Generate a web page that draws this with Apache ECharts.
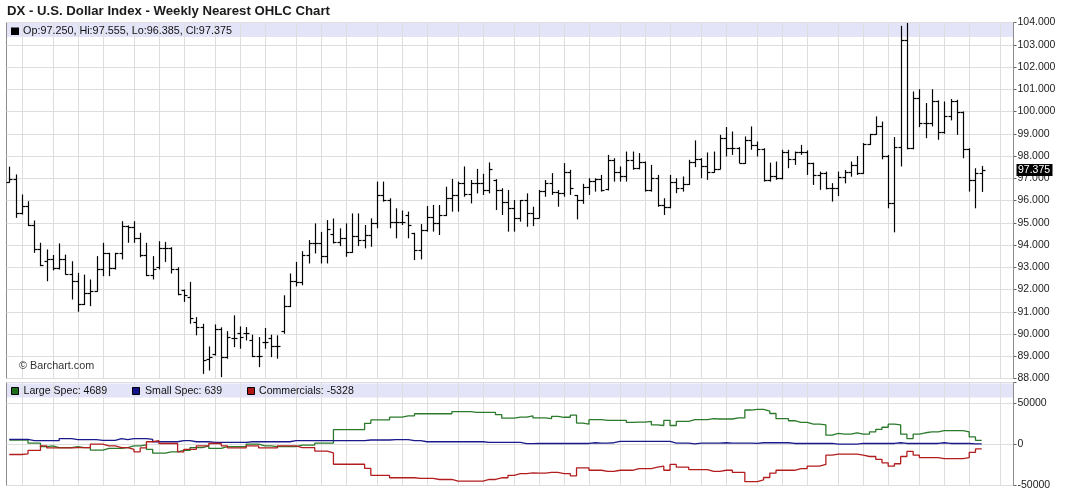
<!DOCTYPE html>
<html>
<head>
<meta charset="UTF-8">
<title>DX - U.S. Dollar Index - Weekly Nearest OHLC Chart</title>
<script src="https://cdn.jsdelivr.net/npm/echarts@6.0.0/dist/echarts.min.js"></script>
<style>
  html, body { margin: 0; padding: 0; background: #fff; }
  #chart { width: 1067px; height: 488px; }
</style>
</head>
<body>
<div id="chart"></div>
<script>
// weekly bars, first week starts Monday 2017-06-19
var firstWeek = [2017, 5, 19];

var opens = [
  96.84, 96.95, 95.42, 95.75, 94.90, 93.80, 93.30, 93.38, 92.97, 93.38,
  92.71, 92.37, 91.33, 91.85, 91.95, 92.93, 93.62, 92.97, 93.62, 94.85,
  94.82, 94.32, 93.53, 92.67, 93.00, 93.87, 93.85, 92.90, 91.96, 91.66,
  90.54, 90.31, 88.89, 89.11, 90.24, 88.96, 89.83, 90.04, 90.04, 89.71,
  88.99, 89.64, 89.83, 89.44, 90.12, 91.24, 92.37, 92.35, 93.54, 94.10,
  94.11, 93.50, 94.49, 94.14, 94.30, 93.70, 94.40, 94.22, 94.45, 94.97,
  96.25, 96.02, 95.05, 95.05, 95.35, 94.55, 93.77, 94.67, 95.27, 94.97,
  95.35, 96.13, 96.25, 96.77, 96.28, 96.80, 96.80, 96.47, 96.90, 96.47,
  95.95, 95.68, 95.23, 96.02, 95.42, 95.23, 96.43, 96.77, 96.40, 96.32,
  97.30, 96.25, 96.02, 96.60, 96.88, 96.97, 96.50, 97.83, 97.30, 97.08,
  97.83, 97.45, 97.71, 96.47, 97.00, 95.80, 95.72, 96.85, 96.55, 96.75,
  97.75, 97.85, 97.55, 97.30, 97.40, 98.80, 98.35, 98.35, 97.70, 98.73,
  98.50, 98.30, 96.93, 97.08, 97.00, 98.20, 97.86, 98.16, 98.20, 97.68,
  97.15, 97.23, 96.55, 96.55, 97.07, 97.30, 97.60, 97.22, 98.55, 98.98,
  99.36, 98.00, 95.90, 98.42, 103.20, 98.35, 100.60, 99.50, 99.48, 100.45,
  99.10, 99.78, 100.45, 99.96, 98.30, 96.93, 97.25
];
var highs = [
  97.52, 97.17, 96.27, 95.97, 95.10, 94.10, 93.80, 93.55, 94.07, 93.57,
  93.27, 92.75, 92.67, 92.45, 93.50, 94.10, 93.65, 93.65, 95.07, 94.88,
  95.07, 94.55, 94.10, 93.50, 94.17, 94.14, 93.90, 93.00, 92.00, 92.34,
  90.76, 90.46, 89.44, 90.43, 90.30, 90.13, 90.84, 90.34, 90.31, 89.97,
  89.86, 90.27, 89.97, 89.94, 91.74, 92.72, 93.24, 93.72, 94.22, 94.97,
  94.59, 95.12, 95.19, 94.75, 94.97, 95.42, 95.42, 94.90, 95.20, 96.85,
  96.85, 96.10, 95.65, 95.55, 95.50, 94.55, 94.94, 95.75, 95.80, 95.80,
  96.62, 96.97, 96.85, 97.53, 96.92, 97.42, 97.20, 97.71, 96.96, 96.55,
  96.47, 96.02, 96.02, 96.32, 95.72, 96.47, 96.92, 97.23, 96.47, 97.68,
  97.38, 96.25, 96.75, 97.00, 97.00, 97.15, 98.05, 97.90, 97.53, 98.20,
  98.20, 98.13, 97.75, 97.60, 97.15, 96.10, 97.15, 97.00, 97.08, 97.83,
  98.70, 97.90, 98.16, 98.20, 98.95, 99.30, 99.10, 98.40, 98.88, 99.33,
  98.65, 98.35, 97.70, 97.75, 98.28, 98.28, 98.20, 98.50, 98.25, 97.70,
  97.30, 97.30, 96.78, 97.30, 97.37, 97.75, 98.00, 98.58, 99.00, 99.78,
  99.55, 98.05, 98.85, 103.85, 103.98, 100.90, 101.00, 100.38, 101.00, 100.50,
  100.45, 100.56, 100.53, 100.00, 98.35, 97.45, 97.555
];
var lows = [
  96.80, 95.22, 95.37, 94.85, 93.65, 93.05, 92.37, 92.86, 92.90, 92.67,
  91.55, 91.00, 91.30, 91.25, 91.90, 92.60, 92.60, 92.90, 93.35, 94.10,
  94.10, 93.45, 92.60, 92.45, 92.90, 93.24, 92.72, 91.74, 91.44, 90.46,
  89.94, 88.21, 88.36, 89.03, 88.06, 88.89, 89.41, 89.34, 89.71, 88.96,
  88.51, 89.34, 88.96, 88.89, 90.01, 91.21, 92.14, 92.19, 93.17, 93.62,
  93.17, 93.17, 94.07, 93.95, 93.47, 93.65, 93.95, 93.85, 93.92, 94.75,
  95.95, 94.75, 94.30, 94.90, 94.30, 93.32, 93.35, 94.60, 94.60, 94.45,
  95.30, 95.50, 95.50, 96.17, 95.87, 96.32, 96.25, 96.32, 95.57, 95.35,
  94.60, 94.60, 95.05, 94.82, 94.85, 95.20, 96.17, 96.25, 95.72, 96.17,
  96.25, 95.15, 95.85, 96.25, 96.40, 96.40, 96.45, 96.85, 96.85, 96.85,
  97.38, 97.40, 96.40, 96.40, 95.72, 95.35, 95.65, 96.33, 96.40, 96.70,
  97.50, 97.00, 96.93, 97.25, 97.40, 97.98, 98.05, 97.68, 97.65, 98.28,
  97.98, 96.85, 96.85, 96.93, 96.95, 97.45, 97.60, 98.05, 97.15, 96.70,
  96.48, 96.50, 95.95, 96.20, 96.77, 97.07, 97.15, 97.20, 98.50, 98.95,
  97.85, 95.65, 94.57, 97.53, 98.30, 98.30, 99.30, 98.80, 99.33, 98.73,
  99.00, 99.60, 98.95, 97.90, 96.40, 95.65, 96.385
];
var closes = [
  96.95, 95.42, 95.75, 94.90, 93.80, 93.12, 93.38, 92.97, 93.38, 92.71,
  92.37, 91.33, 91.85, 91.95, 92.93, 93.65, 92.97, 93.62, 94.85, 94.82,
  94.32, 93.53, 92.67, 92.93, 93.87, 93.85, 92.90, 91.81, 91.74, 90.73,
  90.31, 88.84, 88.96, 90.24, 88.96, 89.86, 89.83, 89.86, 90.04, 88.99,
  88.99, 89.64, 89.44, 89.44, 91.24, 92.37, 92.35, 93.54, 94.10, 94.11,
  93.50, 94.74, 94.14, 94.30, 93.70, 94.40, 94.22, 94.45, 94.97, 96.25,
  96.02, 95.05, 95.05, 95.05, 94.90, 93.77, 94.67, 95.27, 94.97, 95.35,
  96.13, 96.25, 96.77, 96.28, 96.80, 96.80, 96.47, 97.41, 96.47, 95.95,
  95.68, 95.23, 96.02, 95.42, 95.23, 96.43, 96.77, 96.40, 96.32, 97.30,
  96.55, 96.02, 96.60, 96.88, 96.97, 96.47, 97.83, 97.30, 97.08, 97.83,
  97.45, 97.71, 96.47, 97.00, 95.80, 95.72, 96.85, 96.55, 96.75, 97.75,
  97.85, 97.55, 97.30, 97.40, 98.80, 98.35, 98.35, 97.70, 98.73, 98.50,
  98.30, 96.93, 97.08, 97.00, 98.20, 97.86, 98.16, 98.20, 97.68, 97.15,
  97.23, 96.55, 96.55, 97.07, 97.30, 97.60, 97.22, 98.55, 98.98, 99.36,
  98.00, 95.90, 98.42, 103.20, 98.35, 100.60, 99.50, 99.48, 100.45, 99.10,
  99.78, 100.45, 99.96, 98.30, 96.93, 97.23, 97.375
];

// commitments of traders, net positions
var largeSpec = [
  5200, 5200, 5200, 1400, 1400, -2800, -1900, -4000, -4000, -4000,
  -2800, -4000, -4000, -7000, -7000, -4900, -4900, -4900, -4000, -1900,
  -1900, -700, -6100, -10800, -10800, -9100, -9100, -7400, -7400, -4000,
  -4000, -1900, -4900, -4900, -2800, -2800, -2800, -2800, 160, 160,
  -1900, -1900, -2800, -2800, -2800, -2800, -1100, -1100, -1100, 1400,
  1400, 1400, 17800, 17800, 17800, 17800, 17800, 25400, 29600, 29600,
  29600, 32900, 32900, 34600, 34600, 37100, 37100, 37100, 37100, 37100,
  37100, 39600, 39600, 39600, 38800, 38800, 38800, 38800, 35900, 31700,
  31700, 32900, 32900, 34600, 32000, 32000, 31100, 34000, 32800, 32800,
  35300, 25700, 24400, 29900, 29900, 29000, 29000, 29000, 29000, 26500,
  26900, 26900, 27800, 23600, 22800, 29000, 22800, 27800, 27800, 29900,
  29900, 29900, 31100, 30700, 30700, 30700, 32000, 32000, 41600, 42400,
  42400, 40300, 37400, 31100, 31100, 28600, 26500, 26500, 24400, 24400,
  23600, 11100, 13200, 12300, 12300, 14000, 12300, 12300, 15200, 18200,
  20700, 24400, 23600, 12300, 6900, 12300, 14000, 15200, 15200, 16500,
  16500, 16500, 16500, 15200, 9000, 4800, 4689
];
var smallSpec = [
  6000, 6000, 6000, 4400, 4400, 4400, 4400, 4400, 6900, 6900,
  5600, 5600, 5600, 5600, 4800, 4800, 4800, 6900, 5600, 6900,
  6900, 6900, 6000, 3100, 3100, 3100, 3100, 4400, 4400, 3100,
  3100, 3100, 2300, 2300, 2300, 2300, 2300, 2300, 3100, 3100,
  3100, 3100, 3100, 3100, 3100, 4400, 4400, 4400, 4400, 4400,
  4400, 4400, 4400, 4400, 4400, 4400, 4400, 5200, 5200, 5200,
  5200, 5600, 5600, 5600, 4400, 4400, 3100, 3100, 3100, 3100,
  3100, 3100, 3100, 3100, 3100, 3100, 2300, 2300, 2300, 2300,
  2300, 2300, 800, 800, 1000, 1000, 1000, 1000, 1000, 1000,
  1000, 1000, 1000, 1900, 1450, 1450, 1900, 3500, 3500, 3500,
  3500, 3500, 3500, 3500, 3500, 3500, 1450, 1450, 1450, 600,
  1450, 1450, 1450, 1450, 1900, 1450, 1450, 1450, 1450, 1000,
  1900, 1900, 1900, 1900, 1900, 1000, 1000, 1000, 1000, 1000,
  1000, 1000, 200, 200, 200, 200, 1000, 1000, 1000, 1000,
  1000, 1000, 1900, 1000, 1000, 1000, 1000, 1000, 1000, 1900,
  1000, 1000, 1000, 1000, 600, 600, 639
];
var commercials = [
  -12400, -12400, -11600, -7400, -7400, -1900, -4400, -4400, -4400, -4400,
  -4000, -4000, -4000, 160, 160, -1900, -1900, -4000, -4000, -6100,
  -9100, -4400, 3100, 4400, 1000, 1000, 1000, -9100, -6100, -6100,
  -1900, -1900, 1000, 1000, -1900, -4400, -4400, -4400, -1900, -1900,
  -4400, -4400, -4400, -1900, -1900, -1900, -4000, -4000, -4000, -8200,
  -8200, -10300, -24200, -24200, -24200, -24200, -24200, -29200, -37600, -37600,
  -37600, -40600, -40600, -40600, -40600, -41400, -41400, -41400, -42700, -42700,
  -42700, -44800, -44800, -44800, -44800, -44800, -42700, -42700, -40600, -40600,
  -37600, -35500, -35500, -34700, -34900, -34900, -34100, -34100, -35700, -35700,
  -38200, -28600, -28600, -31500, -31500, -32800, -32800, -31500, -31500, -31500,
  -29500, -29500, -29500, -27800, -26500, -31500, -24400, -27800, -27800, -30700,
  -30700, -30700, -32800, -32800, -31500, -31500, -34100, -34100, -45300, -45300,
  -43200, -40300, -34900, -31500, -31500, -31500, -29500, -29500, -26500, -26500,
  -24400, -13200, -11900, -11900, -11900, -11900, -13200, -14800, -14800, -18200,
  -22500, -26500, -23600, -14800, -8600, -13200, -16100, -16100, -16100, -17300,
  -17300, -17300, -17300, -16100, -9800, -5600, -5328
];

var FONT = '"Liberation Sans", Arial, Helvetica, sans-serif';
var GRID_COLOR = '#dedede';
var BAND_COLOR = '#e4e4f8';
var X_MIN = -0.45, X_MAX = 161.1;

// week dates, also a few empty weeks after the last bar for the month lines
var weeks = [];
var t0 = Date.UTC(firstWeek[0], firstWeek[1], firstWeek[2]);
for (var i = 0; i < 162; i++) {
  weeks.push(new Date(t0 + i * 7 * 86400000));
}
var monthLines = [];
for (var i = 1; i < weeks.length; i++) {
  if (weeks[i].getUTCMonth() !== weeks[i - 1].getUTCMonth()) monthLines.push([i]);
}

var ohlcData = closes.map(function (c, i) {
  return [i, opens[i], highs[i], lows[i], c];
});
function pairs(arr) {
  return arr.map(function (v, i) { return [i, v]; });
}

function gridRender(params, api) {
  var x = Math.round(api.coord([api.value(0), 0])[0]) + 0.5;
  var cs = params.coordSys;
  return {
    type: 'line',
    shape: { x1: x, y1: cs.y, x2: x, y2: cs.y + cs.height },
    style: { stroke: GRID_COLOR, lineWidth: 1 }
  };
}

function ohlcRender(params, api) {
  var i = api.value(0);
  var x = Math.round(api.coord([i, 0])[0]) + 0.5;
  var yo = Math.round(api.coord([i, api.value(1)])[1]) + 0.5;
  var yh = api.coord([i, api.value(2)])[1];
  var yl = api.coord([i, api.value(3)])[1];
  var yc = Math.round(api.coord([i, api.value(4)])[1]) + 0.5;
  var st = { stroke: '#000', lineWidth: 1.2 };
  return {
    type: 'group',
    children: [
      { type: 'line', shape: { x1: x, y1: yh, x2: x, y2: yl }, style: st },
      { type: 'line', shape: { x1: x - 3, y1: yo, x2: x, y2: yo }, style: st },
      { type: 'line', shape: { x1: x, y1: yc, x2: x + 3, y2: yc }, style: st }
    ]
  };
}

var last = closes.length - 1;
var headText = 'Op:' + opens[last].toFixed(3) + ', Hi:' + highs[last].toFixed(3) +
  ', Lo:' + lows[last].toFixed(3) + ', Cl:' + closes[last].toFixed(3);

var axisLabelStyle = { margin: 4, fontSize: 10.5, color: '#222', fontFamily: FONT };

var chart = echarts.init(document.getElementById('chart'));
var option = {
  animation: false,
  backgroundColor: '#fff',
  grid: [
    { left: 6.5, right: 53.5, top: 22.5, bottom: 109.5, show: true, borderColor: '#8c8c8c',
      borderWidth: 1, backgroundColor: '#fff', outerBoundsMode: 'none', containLabel: false },
    { left: 6.5, right: 53.5, top: 382.5, bottom: 2.5, show: true, borderColor: '#8c8c8c',
      borderWidth: 1, backgroundColor: '#fff', outerBoundsMode: 'none', containLabel: false }
  ],
  xAxis: [
    { type: 'value', gridIndex: 0, min: X_MIN, max: X_MAX, show: false },
    { type: 'value', gridIndex: 1, min: X_MIN, max: X_MAX, show: false }
  ],
  yAxis: [
    { type: 'value', gridIndex: 0, position: 'right', min: 88, max: 104, interval: 1,
      axisLine: { show: false, onZero: false },
      axisTick: { show: true, length: 3, lineStyle: { color: '#666' } },
      axisLabel: Object.assign({ formatter: function (v) { return v.toFixed(3); } }, axisLabelStyle),
      splitLine: { show: true, lineStyle: { color: GRID_COLOR, width: 1 } } },
    { type: 'value', gridIndex: 1, position: 'right', min: -50000, max: 75000, interval: 50000,
      axisLine: { show: false, onZero: false },
      axisTick: { show: true, length: 3, lineStyle: { color: '#666' } },
      axisLabel: Object.assign({ formatter: function (v) { return v > 50000 ? '' : String(v); } }, axisLabelStyle),
      splitLine: { show: true, lineStyle: { color: GRID_COLOR, width: 1 } } }
  ],
  series: [
    { type: 'custom', xAxisIndex: 0, yAxisIndex: 0, data: monthLines, renderItem: gridRender,
      encode: { x: 0 }, silent: true, z: 2 },
    { type: 'custom', xAxisIndex: 1, yAxisIndex: 1, data: monthLines, renderItem: gridRender,
      encode: { x: 0 }, silent: true, z: 2 },
    { type: 'custom', name: 'DX', xAxisIndex: 0, yAxisIndex: 0, data: ohlcData, renderItem: ohlcRender,
      encode: { x: 0, y: [1, 2, 3, 4] }, silent: true, z: 3 },
    { type: 'line', name: 'Large Spec', xAxisIndex: 1, yAxisIndex: 1, data: pairs(largeSpec),
      step: 'end', symbol: 'none', silent: true, z: 3,
      lineStyle: { color: '#2b7a2b', width: 1.3 } },
    { type: 'line', name: 'Small Spec', xAxisIndex: 1, yAxisIndex: 1, data: pairs(smallSpec),
      step: 'end', symbol: 'none', silent: true, z: 3,
      lineStyle: { color: '#1a1a8c', width: 1.3 } },
    { type: 'line', name: 'Commercials', xAxisIndex: 1, yAxisIndex: 1, data: pairs(commercials),
      step: 'end', symbol: 'none', silent: true, z: 3,
      lineStyle: { color: '#b21e1e', width: 1.3 } }
  ],
  graphic: {
    elements: [
      { id: 'title', type: 'text', x: 7, y: 11.5, z: 10, silent: true,
        style: { text: 'DX - U.S. Dollar Index - Weekly Nearest OHLC Chart', fill: '#1a1a1a',
                 font: 'bold 13.2px ' + FONT, verticalAlign: 'middle' } },
      { id: 'band1', type: 'rect', z: 1, silent: true,
        shape: { x: 7, y: 23, width: 1006, height: 14 }, style: { fill: BAND_COLOR } },
      { id: 'sq0', type: 'rect', z: 10, silent: true,
        shape: { x: 11, y: 27.5, width: 8, height: 7.5 }, style: { fill: '#000' } },
      { id: 'head', type: 'text', x: 23, y: 31, z: 10, silent: true,
        style: { text: headText, fill: '#111', font: '10.8px ' + FONT, verticalAlign: 'middle' } },
      { id: 'copy', type: 'text', x: 19, y: 366, z: 10, silent: true,
        style: { text: '\u00a9 Barchart.com', fill: '#333', font: '10.8px ' + FONT, verticalAlign: 'middle' } },
      { id: 'band2', type: 'rect', z: 1, silent: true,
        shape: { x: 7, y: 383.5, width: 1006, height: 14 }, style: { fill: BAND_COLOR } },
      { id: 'sq1', type: 'rect', z: 10, silent: true,
        shape: { x: 11.5, y: 387.5, width: 7, height: 7 }, style: { fill: '#1b6e1b', stroke: '#000', lineWidth: 1 } },
      { id: 'lg1', type: 'text', x: 23.5, y: 391.5, z: 10, silent: true,
        style: { text: 'Large Spec: ' + largeSpec[last], fill: '#111', font: '10.6px ' + FONT, verticalAlign: 'middle' } },
      { id: 'sq2', type: 'rect', z: 10, silent: true,
        shape: { x: 132.5, y: 387.5, width: 7, height: 7 }, style: { fill: '#14148a', stroke: '#000', lineWidth: 1 } },
      { id: 'lg2', type: 'text', x: 145, y: 391.5, z: 10, silent: true,
        style: { text: 'Small Spec: ' + smallSpec[last], fill: '#111', font: '10.6px ' + FONT, verticalAlign: 'middle' } },
      { id: 'sq3', type: 'rect', z: 10, silent: true,
        shape: { x: 247.5, y: 387.5, width: 7, height: 7 }, style: { fill: '#b01818', stroke: '#000', lineWidth: 1 } },
      { id: 'lg3', type: 'text', x: 259, y: 391.5, z: 10, silent: true,
        style: { text: 'Commercials: ' + commercials[last], fill: '#111', font: '10.6px ' + FONT, verticalAlign: 'middle' } }
    ]
  }
};
chart.setOption(option);

// last close marker on the price axis
var yClose = chart.convertToPixel({ yAxisIndex: 0 }, closes[last]);
chart.setOption({
  graphic: {
    elements: [
      { id: 'closeBox', type: 'rect', z: 20, silent: true,
        shape: { x: 1016.5, y: Math.round(yClose) - 6, width: 36, height: 12 }, style: { fill: '#000' } },
      { id: 'closeTxt', type: 'text', x: 1018, y: Math.round(yClose), z: 21, silent: true,
        style: { text: closes[last].toFixed(3), fill: '#fff', font: '10.5px ' + FONT, verticalAlign: 'middle' } }
    ]
  }
});
</script>
</body>
</html>
